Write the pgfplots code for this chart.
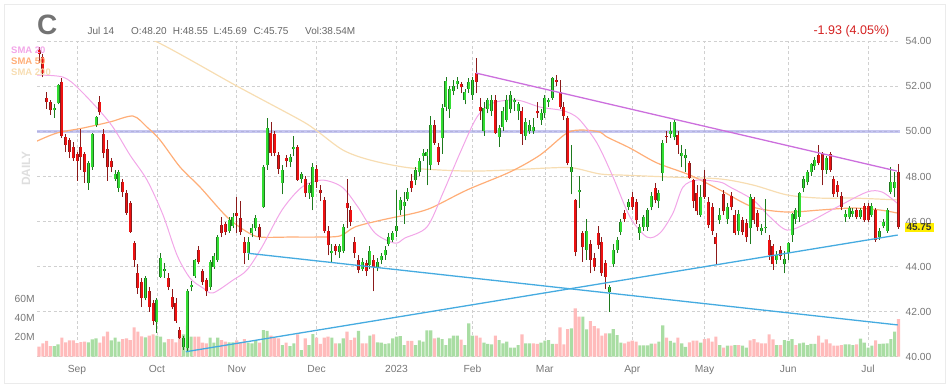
\documentclass[border=0pt]{standalone}
\usepackage{pgfplots}
\pgfplotsset{compat=1.18}
\usepackage{pgfplotstable}
\usepackage{fontspec}
\setmainfont{Liberation Sans}
\definecolor{upfill}{HTML}{33DD33}
\definecolor{upedge}{HTML}{1E7A1E}
\definecolor{dnfill}{HTML}{EE1111}
\definecolor{dnedge}{HTML}{8B1A1A}
\definecolor{volup}{HTML}{A9DDA3}
\definecolor{voldn}{HTML}{FFBBBB}
\definecolor{smaA}{HTML}{F2A6E8}
\definecolor{smaB}{HTML}{FFAE78}
\definecolor{smaC}{HTML}{F7DDB2}
\definecolor{trendm}{HTML}{CC6FDD}
\definecolor{trendb}{HTML}{45ABE0}
\definecolor{hline}{HTML}{A0A0E6}
\definecolor{txtgray}{HTML}{777777}
\definecolor{gridgray}{HTML}{D0D0D0}
\definecolor{chgred}{HTML}{D42020}
\definecolor{yel}{HTML}{FFEE00}

\pgfplotstableread{
i O H L C
4 50.95 51.2 50.6 51.05
5 51.25 52.1 51.2 52.05
13 47.7 48.7 47.4 48.6
14 48.4 49.95 48.3 49.9
15 50.3 50.7 50.2 50.65
20 47.9 48.3 47.8 48.1
21 47.5 48.3 47.3 48.2
28 42.6 43.6 42.5 43.5
31 41.55 42.6 41.05 42.5
32 43.55 44.6 43.5 44.4
33 43.8 44.15 43.5 43.9
38 40.45 40.9 40.3 40.85
39 40.4 43.0 40.2 42.9
40 43.1 43.35 42.9 43.2
41 43.6 44.35 43.5 44.3
45 43.1 44.3 42.95 44.2
46 44.0 44.6 43.9 44.45
47 44.3 45.4 44.2 45.3
50 45.6 46.2 45.5 46.05
51 45.8 46.4 45.7 46.2
55 44.6 45.3 44.3 45.1
56 45.5 45.9 45.3 45.7
57 45.7 46.3 45.6 46.15
59 46.65 48.5 46.6 48.4
60 48.5 50.6 48.3 50.15
64 47.7 48.5 47.2 48.3
66 48.65 49.0 48.4 48.85
67 49.2 49.8 48.9 49.3
69 47.9 48.2 47.7 48.1
71 47.25 47.7 47.0 47.6
72 47.1 48.6 46.5 48.4
77 44.6 45.0 44.2 44.7
79 44.65 45.0 44.4 44.9
80 44.7 45.9 44.6 45.75
85 43.9 44.4 43.8 44.2
87 44.05 44.9 43.9 44.7
89 44.0 44.4 43.8 44.2
90 44.3 44.6 44.1 44.45
91 44.5 44.9 44.3 44.75
92 45.0 45.5 44.9 45.3
93 45.2 45.6 45.1 45.5
94 45.6 47.4 45.3 45.8
95 46.5 47.1 46.3 46.95
96 46.7 47.3 45.9 46.85
97 47.0 47.5 46.9 47.3
99 47.85 48.4 47.6 48.3
100 48.2 48.8 48.0 48.7
101 48.9 49.2 48.7 49.05
102 48.9 49.2 47.6 49.1
103 48.5 50.7 48.3 50.3
106 49.7 51.2 49.0 51.05
107 51.1 52.4 50.9 52.25
108 51.0 52.0 50.6 51.9
109 51.8 52.3 51.6 52.0
110 52.1 52.4 51.9 52.25
112 51.4 51.9 51.2 51.75
113 51.9 52.35 51.7 52.2
114 51.6 52.4 51.4 52.3
117 50.0 51.3 49.8 51.05
118 51.0 51.5 50.8 51.4
119 50.9 51.6 50.7 51.4
121 49.75 50.3 49.3 50.15
122 50.2 51.1 50.0 50.9
123 50.5 51.6 50.4 51.4
124 51.0 51.8 50.8 51.6
125 51.3 51.5 50.9 51.4
126 50.9 51.3 50.5 51.2
128 49.8 50.6 49.6 50.4
129 50.0 50.5 49.9 50.3
130 50.0 50.6 49.9 50.2
132 50.5 51.0 50.3 50.8
133 50.8 51.6 50.6 51.5
134 51.3 51.5 51.1 51.4
135 51.5 52.4 51.4 52.35
140 48.2 49.4 47.2 48.4
142 47.3 48.0 46.6 47.4
144 44.75 46.1 44.3 45.6
150 42.85 43.2 42.0 43.1
151 44.1 45.0 44.0 44.75
152 44.75 45.3 44.6 45.2
153 45.55 46.1 45.4 46.0
155 46.65 47.0 46.5 46.85
158 45.5 45.9 45.2 45.75
159 45.76 46.3 45.6 46.2
160 45.76 46.6 45.6 46.5
161 46.65 47.3 46.5 47.15
163 46.9 47.4 46.6 47.25
164 48.15 49.6 47.8 49.5
166 49.9 50.4 49.7 50.0
167 49.75 50.5 49.6 50.4
169 48.9 49.4 48.4 49.05
170 48.8 49.2 48.2 48.95
174 46.3 47.6 46.2 47.1
179 46.05 46.6 45.9 46.3
181 46.1 46.8 45.9 46.65
184 45.6 46.5 45.4 46.35
187 45.7 47.2 45.0 47.1
190 45.6 45.9 45.4 45.7
191 45.7 47.0 45.5 45.75
194 44.3 44.7 44.1 44.5
196 44.1 44.7 43.7 44.35
197 44.6 45.1 44.3 45.05
198 45.4 46.4 45.1 46.35
199 46.1 46.6 45.9 46.5
200 46.2 47.3 46.0 47.25
201 47.5 48.0 47.3 47.9
202 47.75 48.3 47.6 48.2
203 48.2 48.6 48.0 48.55
204 48.45 48.85 48.3 48.75
207 48.3 48.9 48.1 48.8
212 46.2 46.5 46.0 46.35
213 46.2 46.7 46.1 46.6
214 46.35 46.6 46.2 46.45
216 46.2 46.6 46.1 46.5
219 46.3 46.8 46.2 46.7
221 45.3 45.7 45.2 45.6
222 45.8 46.1 45.7 46.0
223 45.6 46.6 45.5 46.5
224 47.3 48.4 47.2 47.75
225 47.5 48.2 47.1 47.75
}\upc

\pgfplotstableread{
i O H L C
0 53.6 53.75 53.05 53.45
1 53.3 53.45 52.4 52.6
2 51.5 51.75 51.0 51.3
3 51.3 51.4 50.75 50.95
6 52.2 52.35 49.7 49.8
7 49.75 49.9 49.1 49.4
8 49.6 49.7 48.8 49.1
9 49.3 49.55 48.7 48.8
10 49.0 49.1 47.8 48.7
11 49.3 50.1 48.3 48.85
12 49.0 49.1 47.7 48.2
16 51.3 51.55 50.75 50.85
17 49.9 50.1 48.8 49.05
18 49.2 49.6 47.8 48.4
19 48.7 48.8 48.2 48.4
22 47.75 47.9 47.1 47.3
23 47.25 47.4 46.3 46.4
24 46.8 46.9 45.5 45.55
25 45.05 45.15 44.0 44.3
26 43.7 44.1 42.8 43.05
27 43.3 43.5 42.2 42.6
29 42.9 43.1 42.0 42.2
30 42.4 42.5 41.4 41.6
34 43.5 43.7 42.95 43.1
35 42.65 43.0 42.1 42.2
36 42.4 42.6 41.5 41.6
37 41.2 41.3 40.8 40.85
42 44.75 44.9 44.1 44.2
43 43.8 43.9 43.2 43.3
44 43.4 43.5 42.7 42.9
48 45.85 46.2 45.3 45.5
49 45.9 46.0 45.4 45.55
52 46.4 47.1 45.5 46.25
53 46.15 46.9 45.4 45.55
54 45.1 45.3 44.1 44.6
58 45.75 45.9 45.2 45.3
61 49.95 50.4 48.9 49.05
62 49.9 50.0 48.9 49.05
63 48.95 49.1 48.1 48.35
65 48.8 48.95 48.4 48.7
68 49.3 49.4 47.8 47.85
70 47.9 48.0 47.1 47.25
73 48.35 48.5 47.5 47.75
74 47.4 47.6 46.9 47.25
75 46.95 47.1 45.5 45.6
76 45.6 45.8 44.5 44.95
78 44.9 45.0 44.5 44.7
81 46.8 47.9 45.7 46.6
82 46.5 46.7 45.8 46.0
83 45.1 45.3 44.4 44.6
84 44.3 44.5 43.7 43.85
86 44.15 44.3 43.6 43.8
88 44.3 44.5 42.9 44.0
98 47.8 48.1 47.3 47.5
104 50.3 50.5 49.4 49.5
105 49.3 49.5 48.5 48.65
111 52.1 52.2 51.7 51.95
115 52.6 53.25 51.7 52.2
116 51.1 51.5 50.5 50.9
120 51.4 51.6 49.9 49.95
127 50.9 51.1 49.4 49.9
131 50.9 51.3 50.6 50.8
136 52.3 52.5 52.0 52.2
137 51.75 52.3 51.0 51.1
138 51.1 51.3 50.5 50.7
139 50.6 50.7 48.5 48.6
141 46.95 47.0 44.45 44.65
143 45.5 45.6 44.2 44.85
145 45.0 45.2 43.7 44.3
146 44.4 44.6 43.8 44.0
147 45.5 45.8 44.8 44.95
148 45.1 45.3 43.6 43.7
149 44.15 44.3 43.0 43.55
154 46.4 46.5 46.0 46.1
156 47.1 47.3 46.5 46.65
157 46.85 47.0 45.9 46.05
162 47.5 47.7 46.8 46.95
165 49.8 50.0 49.5 49.75
168 49.85 50.0 49.0 49.4
171 48.6 48.7 47.9 47.95
172 47.85 47.9 46.6 46.9
173 47.25 47.6 46.3 46.45
175 47.9 48.3 47.0 47.1
176 46.85 47.1 45.7 45.85
177 46.65 46.8 45.4 45.6
178 45.3 45.5 44.05 45.0
180 47.2 47.4 46.3 46.45
182 47.15 47.3 46.5 46.65
183 46.3 46.5 45.4 45.5
185 46.05 46.2 45.4 45.55
186 45.95 46.1 45.1 45.3
188 47.0 47.1 45.9 46.05
189 46.4 46.5 45.6 45.75
192 45.2 45.4 44.3 44.5
193 44.9 45.0 43.85 44.1
195 44.75 44.9 44.3 44.45
205 48.95 49.4 48.5 48.6
206 49.0 49.1 47.6 48.3
208 49.0 49.1 48.2 48.3
209 47.9 48.0 47.1 47.2
210 47.6 47.8 47.1 47.3
211 47.15 47.3 46.5 46.65
215 46.5 46.6 46.1 46.2
217 46.7 46.8 46.0 46.05
218 46.7 46.8 46.0 46.05
220 46.5 46.6 45.1 45.2
226 48.2 48.55 45.69 45.75
}\dnc

\pgfplotstableread{
i V
4 11.0
5 12.7
13 14.8
14 17.9
15 18.9
19 16.8
20 19.6
21 15.5
28 19.9
31 21.6
32 20.6
33 14.8
38 23.0
39 32.0
40 20.6
45 19.6
46 14.4
47 19.6
50 14.8
51 14.8
55 14.4
56 13.7
57 16.8
59 27.5
60 26.5
64 12.0
66 11.0
67 13.7
69 6.9
71 12.0
72 23.4
77 19.6
79 13.7
80 18.9
84 26.5
87 21.6
89 14.8
90 14.4
91 13.1
92 13.7
93 18.9
94 20.6
95 21.3
96 12.0
99 12.0
100 16.8
101 15.5
102 27.1
103 27.1
105 19.6
106 18.2
107 12.0
108 18.9
109 21.6
110 21.6
112 12.0
113 34.4
114 21.6
117 14.4
118 13.1
119 12.7
121 17.2
122 13.7
123 15.5
124 9.3
125 9.3
126 12.0
128 13.7
129 13.7
132 14.4
133 16.5
134 17.2
135 13.1
140 29.2
143 41.2
144 28.2
150 24.1
151 28.5
152 22.3
153 14.4
158 11.7
159 11.7
160 11.7
161 13.4
163 15.5
164 32.3
166 16.2
167 14.4
169 13.7
170 10.0
174 14.4
179 12.0
181 11.3
183 12.0
185 11.3
186 9.3
194 12.0
196 17.2
197 16.2
198 18.2
200 13.7
201 14.4
202 12.0
203 13.1
204 13.1
212 12.7
213 12.7
214 12.0
216 18.6
217 14.4
218 9.3
219 11.3
221 13.1
222 13.4
223 13.7
224 18.2
225 25.8
}\volg

\pgfplotstableread{
i V
0 10.3
1 13.7
2 16.2
3 11.0
6 19.6
7 14.8
8 16.8
9 16.8
10 14.1
11 15.1
12 15.5
16 14.4
17 21.0
18 25.8
22 18.2
23 18.9
24 17.2
25 30.2
26 25.8
27 21.0
29 21.6
30 23.0
34 18.2
35 18.2
36 14.8
37 19.6
41 20.6
42 20.6
43 14.4
44 13.7
48 17.2
49 15.5
52 16.8
53 14.4
54 18.2
58 14.4
61 21.6
62 19.6
63 18.9
65 14.4
68 23.0
70 18.9
73 19.6
74 13.1
75 19.6
76 20.6
78 13.7
81 25.8
82 17.2
83 19.6
85 13.7
86 13.7
88 23.0
97 16.2
98 16.2
104 18.9
111 17.5
115 21.6
116 19.6
120 21.6
127 23.0
130 13.7
131 13.1
136 13.1
137 30.2
138 12.7
139 28.5
141 49.8
142 41.2
145 36.8
146 31.6
147 29.2
148 21.6
149 24.1
154 13.7
155 15.5
156 16.5
157 15.5
162 13.4
165 19.6
168 19.6
171 14.8
172 16.5
173 16.5
175 18.2
176 18.9
177 15.5
178 20.6
180 9.3
182 11.3
184 12.0
187 16.8
188 18.2
189 14.8
190 13.7
191 13.7
192 23.0
193 17.9
195 12.0
199 12.0
205 21.6
206 14.4
207 17.9
208 13.7
209 11.3
210 11.3
211 12.0
215 12.7
220 16.8
226 38.8
}\volr

\pgfplotsset{
  base/.style={at={(37pt,30.3pt)}, anchor=south west, scale only axis,
    width=863pt, height=315.4pt, xmin=-0.526, xmax=226.4, enlargelimits=false,
    axis line style={draw=none}, tick style={draw=none},
    /pgf/number format/assume math mode=true,
    tick label style={font=\fontsize{10.3}{12}\selectfont, text=txtgray}},
  bar/.style 2 args={draw=none, mark=none, no markers, forget plot, error bars/.cd, y dir=plus, y explicit,
    error mark=none, error bar style={line width=#2, draw=#1, solid}},
}

\begin{document}
\begin{tikzpicture}[x=1pt,y=1pt]
\path (0,0) rectangle (950,387);
\draw[color=black!8, line width=0.8pt] (4,4) rectangle (945.5,383);

% grid and price labels
\begin{axis}[base, ymin=40, ymax=54,
  grid=major, major grid style={color=gridgray, line width=0.6pt, dash pattern=on 3pt off 2.5pt},
  ytick={40,42,...,54}, yticklabel pos=right,
  yticklabel style={xshift=2pt, /pgf/number format/fixed, /pgf/number format/fixed zerofill, /pgf/number format/precision=2},
  xtick={10,31,52,73,94,114,133,156,175,197,218},
  xticklabels={Sep,Oct,Nov,Dec,2023,Feb,Mar,Apr,May,Jun,Jul},
  xticklabel style={anchor=base, yshift=-16pt}]
\addplot[draw=none, forget plot] coordinates {(0,45) (1,45)};
\end{axis}

% volume
\begin{axis}[base, ymin=0, ymax=325.2, xtick=\empty,
  ytick={20,40,60}, yticklabels={20M,40M,60M}, yticklabel style={xshift=1.3pt}]
\addplot[ybar, bar width=3.1pt, bar shift=0pt, fill=voldn, draw=none] table[x=i, y=V] \volr;
\addplot[ybar, bar width=3.1pt, bar shift=0pt, fill=volup, draw=none] table[x=i, y=V] \volg;
\end{axis}

% price plots
\begin{axis}[base, ymin=40, ymax=54, xtick=\empty, ytick=\empty]
\addplot[hline, line width=2.2pt, opacity=0.6] coordinates {(-0.526,50) (226.4,50)};
\addplot[smaC, line width=1.2pt, smooth] coordinates {
(20.0,54.6) (31.03,53.97) (52.06,52.01) (68.63,50.51) (73.10,50.02) (79.94,49.17) (87.04,48.73)
(97.55,48.38) (112.54,48.24) (123.85,48.29) (134.37,48.38) (140.42,48.38) (147.52,48.11)
(153.56,48.06) (166.71,47.97) (179.07,47.89) (187.75,47.62) (196.69,47.18) (205.36,47.04)
(214.04,47.04) (225.61,46.96)};
\addplot[smaB, line width=1.2pt, smooth] coordinates {
(-0.53,49.57) (4.73,49.93) (11.57,50.15) (18.67,50.42) (24.72,50.68) (28.40,50.19) (31.82,49.62)
(37.08,48.42) (42.34,47.53) (49.43,46.20) (54.69,45.54) (58.11,45.31) (66.0,45.31) (73.10,45.31)
(79.15,45.36) (83.09,45.76) (90.19,46.07) (98.87,46.38) (103.60,46.64) (112.54,47.40)
(123.85,48.20) (131.74,48.95) (138.84,49.93) (143.05,50.06) (147.52,49.97) (149.36,49.75)
(155.40,49.26) (162.50,48.60) (171.18,48.06) (179.07,47.40) (187.75,46.64) (196.69,46.42)
(205.36,46.51) (214.04,46.60) (221.14,46.51) (225.61,46.38)};
\addplot[smaA, line width=1pt, smooth] coordinates {
(-0.53,52.50) (6.31,52.41) (10.78,51.84) (18.67,50.37) (23.93,48.95) (28.40,47.84) (32.61,46.29)
(36.29,44.51) (39.71,43.49) (43.12,43.05) (45.75,42.83) (51.01,43.40) (54.69,43.85) (58.64,44.87)
(63.90,46.51) (69.16,47.53) (74.41,47.84) (79.67,47.53) (83.88,46.64) (88.35,45.49) (93.61,45.04)
(96.24,45.27) (102.02,45.76) (106.23,47.27) (110.70,49.04) (115.17,50.64) (119.38,51.26)
(125.69,51.39) (131.74,51.08) (137.00,50.95) (139.63,50.81) (142.26,50.50) (146.73,49.48)
(150.93,47.98) (155.40,46.20) (159.87,45.31) (163.29,45.49) (166.71,46.38) (169.34,47.53)
(173.02,47.84) (179.07,47.75) (181.70,47.53) (187.75,46.96) (192.22,46.20) (196.69,45.62)
(201.95,45.93) (209.84,46.64) (217.72,47.31) (221.67,47.31) (225.61,46.82)};
% candles
\addplot[bar={upedge}{0.8pt}] table[x=i, y=L, y error plus expr=\thisrow{H}-\thisrow{L}] \upc;
\addplot[bar={dnedge}{0.8pt}] table[x=i, y=L, y error plus expr=\thisrow{H}-\thisrow{L}] \dnc;
\addplot[bar={upedge}{3.0pt}] table[x=i, y=O, y error plus expr=\thisrow{C}-\thisrow{O}] \upc;
\addplot[bar={dnedge}{3.0pt}] table[x=i, y=C, y error plus expr=\thisrow{O}-\thisrow{C}] \dnc;
\addplot[bar={upfill}{1.8pt}] table[x=i, y=O, y error plus expr=\thisrow{C}-\thisrow{O}] \upc;
\addplot[bar={dnfill}{1.8pt}] table[x=i, y=C, y error plus expr=\thisrow{O}-\thisrow{C}] \dnc;
% trend lines
\addplot[trendm, line width=1.3pt] coordinates {(114.9,52.59) (225.6,48.24)};
\addplot[trendb, line width=1.3pt] coordinates {(55.0,44.59) (225.8,41.41)};
\addplot[trendb, line width=1.3pt] coordinates {(38.6,40.22) (225.8,45.40)};
\end{axis}

% header texts
\node[anchor=base west, font=\bfseries\fontsize{28}{30}\selectfont, text=black!55, inner sep=0] at (37,352) {C};
\begin{scope}[every node/.style={anchor=base west, inner sep=0, font=\fontsize{10}{12}\selectfont, text=black!60}]
\node at (87.3,352.7) {Jul 14};
\node at (131,352.7) {O:48.20};
\node at (172.7,352.7) {H:48.55};
\node at (213.3,352.7) {L:45.69};
\node at (253.3,352.7) {C:45.75};
\node at (305,352.7) {Vol:38.54M};
\end{scope}
\node[anchor=base east, inner sep=0, font=\fontsize{12.5}{14}\selectfont, text=chgred] at (889.5,352.7) {-1.93 (4.05\%)};
\begin{scope}[every node/.style={anchor=base west, inner sep=0, font=\bfseries\fontsize{9.5}{11}\selectfont}]
\node[text=smaA] at (11,333.5) {SMA 20};
\node[text=smaB] at (11,322.5) {SMA 50};
\node[text=smaC] at (11,311) {SMA 200};
\end{scope}
\node[rotate=90, inner sep=0, font=\bfseries\fontsize{12}{14}\selectfont, text=black!13] at (26,218.5) {DAILY};
\node[fill=yel, inner xsep=2pt, inner ysep=1.2pt, font=\bfseries\fontsize{10}{12}\selectfont, text=black!80] at (919,159.5) {45.75};
\end{tikzpicture}
\end{document}
